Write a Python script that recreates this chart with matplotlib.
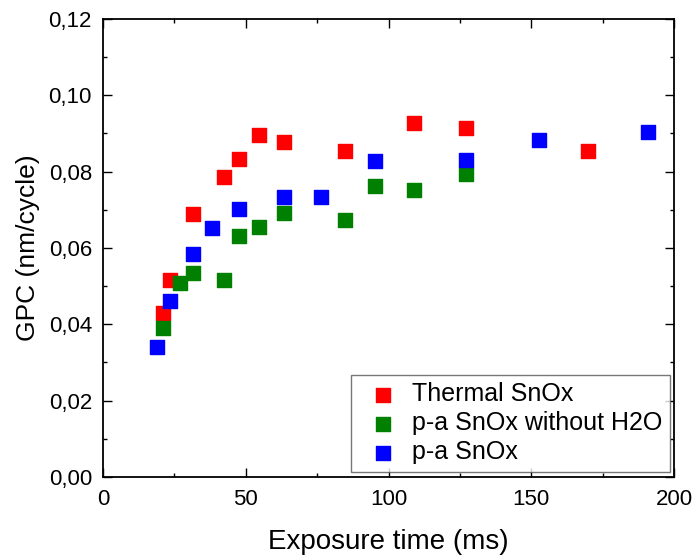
import matplotlib
matplotlib.use("Agg")
from matplotlib import pyplot as plt
from matplotlib.ticker import MultipleLocator, FuncFormatter

plt.rcParams['font.family'] = ['Liberation Sans', 'DejaVu Sans']

# exposure time (ms) and GPC (nm/cycle)
thermal_x = [21.1, 23.6, 31.6, 42.3, 47.5, 54.5, 63.5, 84.8, 109.0, 127.3, 169.8]
thermal_y = [0.0429, 0.0516, 0.0690, 0.0787, 0.0832, 0.0896, 0.0878, 0.0855, 0.0927, 0.0914, 0.0855]

noh2o_x = [21.1, 27.0, 31.6, 42.3, 47.5, 54.5, 63.5, 84.8, 95.4, 109.0, 127.3]
noh2o_y = [0.0390, 0.0509, 0.0535, 0.0517, 0.0631, 0.0656, 0.0691, 0.0673, 0.0762, 0.0751, 0.0794]

pa_x = [18.9, 23.6, 31.6, 38.1, 47.5, 63.5, 76.2, 95.4, 127.3, 152.7, 191.0]
pa_y = [0.0341, 0.0462, 0.0584, 0.0653, 0.0702, 0.0733, 0.0734, 0.0828, 0.0830, 0.0884, 0.0905]

fig = plt.figure(figsize=(6.96, 5.58), dpi=100)
ax = fig.add_axes([0.148, 0.1452, 0.8204, 0.8208])

ax.scatter(thermal_x, thermal_y, marker='s', s=88, c='#ff0000', label='Thermal SnOx', zorder=3)
ax.scatter(noh2o_x, noh2o_y, marker='s', s=88, c='#008000', label='p-a SnOx without H2O', zorder=3)
ax.scatter(pa_x, pa_y, marker='s', s=88, c='#0000ff', label='p-a SnOx', zorder=3)

ax.set_xlim(0, 200)
ax.set_ylim(0, 0.12)
ax.xaxis.set_major_locator(MultipleLocator(50))
ax.xaxis.set_minor_locator(MultipleLocator(25))
ax.yaxis.set_major_locator(MultipleLocator(0.02))
ax.yaxis.set_minor_locator(MultipleLocator(0.01))
ax.yaxis.set_major_formatter(FuncFormatter(lambda v, p: f"{v:.2f}".replace('.', ',')))

ax.tick_params(which='both', direction='in', top=True, right=True, labelsize=16, width=1.0)
ax.tick_params(which='major', length=6.5)
ax.tick_params(which='minor', length=3.2)
ax.tick_params(axis='y', pad=8)
ax.tick_params(axis='x', pad=9)
for sp in ax.spines.values():
    sp.set_linewidth(1.3)

ax.set_xlabel("Exposure time (ms)", fontsize=20, labelpad=13)
ax.set_ylabel("GPC (nm/cycle)", fontsize=19, labelpad=6)

leg = ax.legend(loc='lower right', bbox_to_anchor=(0.993, 0.011), fontsize=18,
                frameon=True, fancybox=False, edgecolor='#555555', borderaxespad=0,
                borderpad=0.3, handlelength=2.0, handletextpad=0.15,
                labelspacing=0.2, markerscale=1.0)
leg.get_frame().set_linewidth(1.0)

fig.savefig("out.png", dpi=100)
